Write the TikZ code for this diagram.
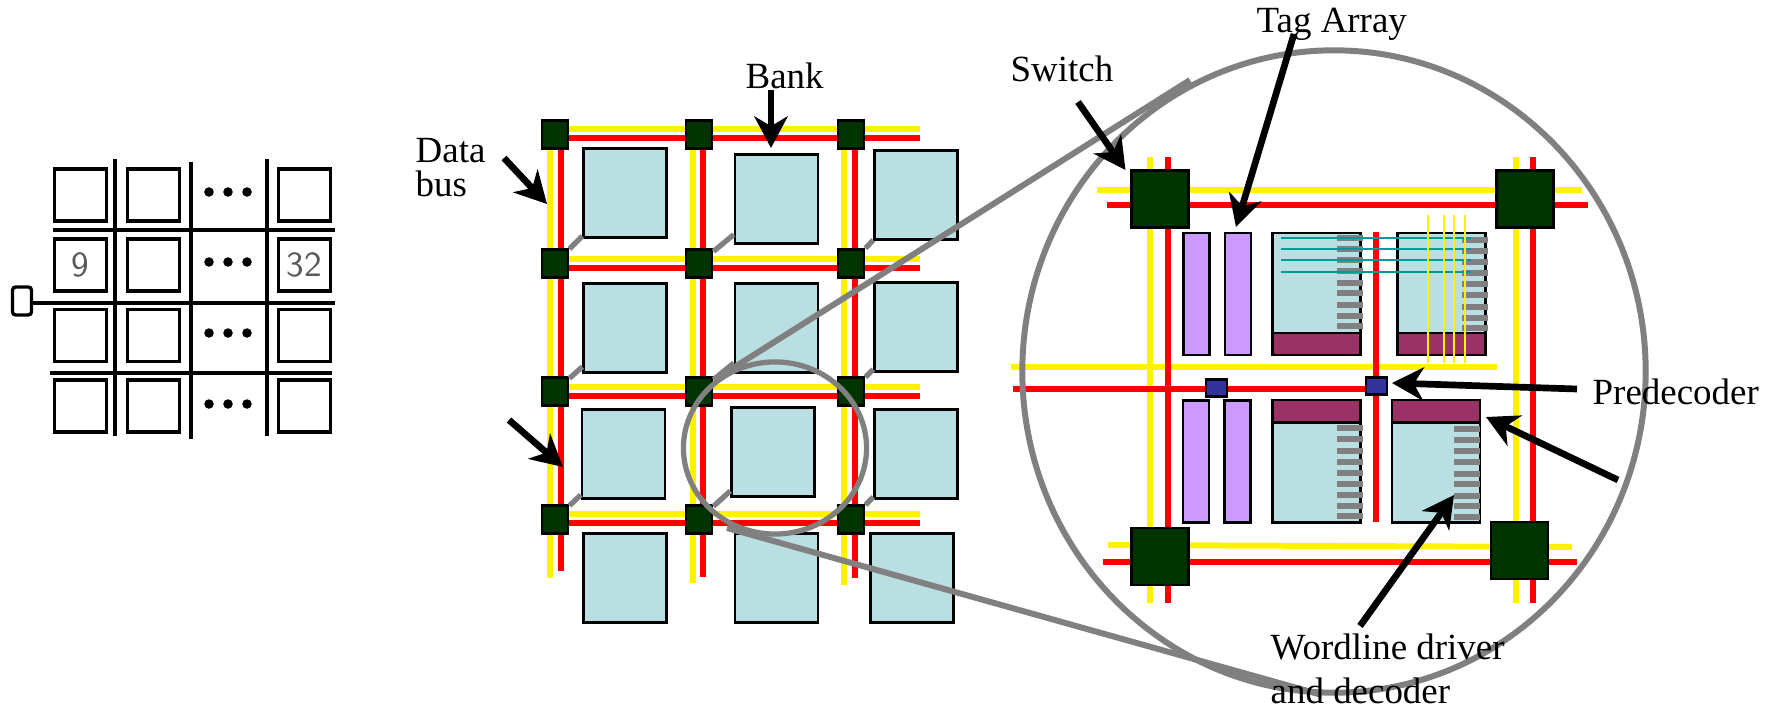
\documentclass[tikz,border=0pt]{standalone}
\usepackage{fontspec}
\setmainfont{Liberation Serif}
\usetikzlibrary{arrows.meta,shapes.geometric}
\definecolor{bankfill}{HTML}{B9DFE2}
\definecolor{switchfill}{HTML}{003300}
\definecolor{tagfill}{HTML}{CC99FF}
\definecolor{decfill}{HTML}{993366}
\definecolor{predfill}{HTML}{333399}
\definecolor{wordteal}{HTML}{009999}
\tikzset{
  cell/.style={draw,line width=0.95pt,inner sep=0pt,minimum width=0.52cm,minimum height=0.52cm},
  gridline/.style={line width=0.95pt},
  tapdot/.style={circle,fill=black,inner sep=0pt,minimum size=0.095cm},
  bank/.style={draw,fill=bankfill,line width=0.7pt,inner sep=0pt,minimum width=0.83cm,minimum height=0.885cm},
  switch/.style={draw,fill=switchfill,line width=0.7pt,inner sep=0pt,minimum width=0.265cm,minimum height=0.28cm},
  bigswitch/.style={draw,fill=switchfill,line width=0.7pt,inner sep=0pt,minimum width=0.57cm,minimum height=0.57cm},
  tagbox/.style={draw,fill=tagfill,line width=0.8pt,inner sep=0pt,minimum width=0.26cm,minimum height=1.22cm},
  databox/.style={draw,fill=bankfill,line width=0.8pt,inner sep=0pt,minimum width=0.88cm,minimum height=1.0cm},
  decbox/.style={draw,fill=decfill,line width=0.8pt,inner sep=0pt,minimum width=0.88cm,minimum height=0.22cm},
  predbox/.style={draw,fill=predfill,line width=0.8pt,inner sep=0pt,minimum width=0.21cm,minimum height=0.17cm},
  driver/.style={fill=gray,inner sep=0pt,minimum width=0.26cm,minimum height=0.06cm},
  ybus/.style={yellow,line width=1.7pt},
  rbus/.style={red,line width=1.7pt},
  stub/.style={gray,line width=1.5pt},
  thinteal/.style={wordteal,line width=0.7pt},
  thinyellow/.style={yellow,line width=0.7pt},
  lens/.style={ellipse,draw=gray,inner sep=0pt},
  zoomline/.style={gray,line width=1.7pt},
  pointer/.style={-{Stealth[length=9pt,width=9.5pt,inset=2.8pt]},line width=1.9pt},
  tag/.style={anchor=base west,inner sep=0pt,font=\fontsize{10.5}{12}\selectfont},
}
\begin{document}
\begin{tikzpicture}[x=0.01cm,y=-0.01cm]
  \useasboundingbox (0,0) rectangle (1778,709);
  \draw
    (80.5,195) node[cell] (c11){}
    (153.5,195) node[cell] (c12){}
    (304.5,195) node[cell] (c13){}
    (80.5,265) node[cell,text=black!65,font=\sffamily] (c21){9}
    (153.5,265) node[cell] (c22){}
    (304.5,265) node[cell,text=black!65,font=\sffamily] (c23){32}
    (80.5,335.5) node[cell] (c31){}
    (153.5,335.5) node[cell] (c32){}
    (304.5,335.5) node[cell] (c33){}
    (80.5,406) node[cell] (c41){}
    (153.5,406) node[cell] (c42){}
    (304.5,406) node[cell] (c43){}
    (22,301) node[draw,line width=0.95pt,rounded corners=0.9pt,inner sep=0pt,minimum width=0.19cm,minimum height=0.28cm] (port){};
  \draw
    (209,192) node[tapdot] (t11){}
    (228,192) node[tapdot] (t12){}
    (247,192) node[tapdot] (t13){}
    (209,262) node[tapdot] (t21){}
    (228,262) node[tapdot] (t22){}
    (247,262) node[tapdot] (t23){}
    (209,333) node[tapdot] (t31){}
    (228,333) node[tapdot] (t32){}
    (247,333) node[tapdot] (t33){}
    (209,404) node[tapdot] (t41){}
    (228,404) node[tapdot] (t42){}
    (247,404) node[tapdot] (t43){};
  \draw
    (115,159) coordinate (v1a) (115,436) coordinate (v1b)
    (191,162) coordinate (v2a) (191,439) coordinate (v2b)
    (267,159) coordinate (v3a) (267,436) coordinate (v3b)
    (53,230) coordinate (h1a) (335,230) coordinate (h1b)
    (335,303) coordinate (h2b)
    (50,373) coordinate (h3a) (332,373) coordinate (h3b);
  \begin{scope}[gridline]
    \draw (v1a) to (v1b);
    \draw (v2a) to (v2b);
    \draw (v3a) to (v3b);
    \draw (h1a) to (h1b);
    \draw (port.east |- h2b) to (h2b);
    \draw (h3a) to (h3b);
  \end{scope}
  \draw
    (555,129) coordinate (ya1) (920,129) coordinate (yb1)
    (555,138) coordinate (ra1) (920,138) coordinate (rb1)
    (555,259) coordinate (ya2) (920,259) coordinate (yb2)
    (555,268) coordinate (ra2) (920,268) coordinate (rb2)
    (555,387) coordinate (ya3) (920,387) coordinate (yb3)
    (555,396) coordinate (ra3) (920,396) coordinate (rb3)
    (555,514) coordinate (ya4) (920,514) coordinate (yb4)
    (555,523) coordinate (ra4) (920,523) coordinate (rb4)
    (550,134) coordinate (yc1) (550,578) coordinate (yd1)
    (561,134) coordinate (rc1) (561,571) coordinate (rd1)
    (693,134) coordinate (yc2) (693,583) coordinate (yd2)
    (703,134) coordinate (rc2) (703,577) coordinate (rd2)
    (844,134) coordinate (yc3) (844,585) coordinate (yd3)
    (855,134) coordinate (rc3) (855,578) coordinate (rd3);
  \begin{scope}[ybus]
    \draw (ya1) to (yb1);
    \draw (ya2) to (yb2);
    \draw (ya3) to (yb3);
    \draw (ya4) to (yb4);
    \draw (yc1) to (yd1);
    \draw (yc2) to (yd2);
    \draw (yc3) to (yd3);
  \end{scope}
  \begin{scope}[rbus]
    \draw (ra1) to (rb1);
    \draw (ra2) to (rb2);
    \draw (ra3) to (rb3);
    \draw (ra4) to (rb4);
    \draw (rc1) to (rd1);
    \draw (rc2) to (rd2);
    \draw (rc3) to (rd3);
  \end{scope}
  \draw
    (555,134.5) node[switch] (s11){}
    (699,134.5) node[switch] (s12){}
    (851,134.5) node[switch] (s13){}
    (555,263.5) node[switch] (s21){}
    (699,263.5) node[switch] (s22){}
    (851,263.5) node[switch] (s23){}
    (555,391.5) node[switch] (s31){}
    (699,391.5) node[switch] (s32){}
    (851,391.5) node[switch] (s33){}
    (555,519.5) node[switch] (s41){}
    (699,519.5) node[switch] (s42){}
    (851,519.5) node[switch] (s43){};
  \draw
    (625,193) node[bank] (b11){}
    (776.5,199) node[bank] (b12){}
    (916,195) node[bank] (b13){}
    (625,328) node[bank] (b21){}
    (776.5,328) node[bank] (b22){}
    (916,327) node[bank] (b23){}
    (623.5,454) node[bank] (b31){}
    (773,452) node[bank] (b32){}
    (916,454) node[bank] (b33){}
    (625,578) node[bank] (b41){}
    (776.5,578) node[bank] (b42){}
    (912,578) node[bank] (b43){};
  \begin{scope}[stub]
    \draw (s21) to (b11);
    \draw (s22) to (b12);
    \draw (s23) to (b13);
    \draw (s31) to (b21);
    \draw (s32) to (b22);
    \draw (s33) to (b23);
    \draw (s41) to (b31);
    \draw (s42) to (b32);
    \draw (s43) to (b33);
  \end{scope}
  \draw
    (1150,157) coordinate (dya1) (1150,603) coordinate (dyb1)
    (1168,157) coordinate (dra1) (1168,603) coordinate (drb1)
    (1515.5,157) coordinate (dya2) (1515.5,603) coordinate (dyb2)
    (1533,157) coordinate (dra2) (1533,603) coordinate (drb2)
    (1097,190) coordinate (dyc1) (1582,190) coordinate (dyd1)
    (1107,205) coordinate (drc1) (1588,205) coordinate (drd1)
    (1011,367) coordinate (dyc2) (1497,367) coordinate (dyd2)
    (1013,389) coordinate (drc2) (1365,389) coordinate (drd2)
    (1108,545) coordinate (dyc3) (1572,547) coordinate (dyd3)
    (1103,562) coordinate (drc3) (1577,562) coordinate (drd3)
    (1376,232) coordinate (drm1) (1376,522) coordinate (drm2);
  \begin{scope}[ybus]
    \draw (dya1) to (dyb1);
    \draw (dya2) to (dyb2);
    \draw (dyc1) to (dyd1);
    \draw (dyc2) to (dyd2);
    \draw (dyc3) to (dyd3);
  \end{scope}
  \begin{scope}[rbus]
    \draw (dra1) to (drb1);
    \draw (dra2) to (drb2);
    \draw (drc1) to (drd1);
    \draw (drc2) to (drd2);
    \draw (drc3) to (drd3);
    \draw (drm1) to (drm2);
  \end{scope}
  \draw
    (1160,199) node[bigswitch] (ds1){}
    (1525,199) node[bigswitch] (ds2){}
    (1160,556.5) node[bigswitch] (ds3){}
    (1519.5,550.5) node[bigswitch] (ds4){}
    (1216.5,388) node[predbox] (p1){}
    (1376.5,386) node[predbox] (p2){}
    (1196.5,294) node[tagbox] (ta1){}
    (1238,294) node[tagbox] (ta2){}
    (1196,461.5) node[tagbox] (ta3){}
    (1237.5,461.5) node[tagbox] (ta4){}
    (1316.5,283) node[databox] (da1){}
    (1441.5,283) node[databox] (da2){}
    (1316.5,472.5) node[databox] (da3){}
    (1436,472.5) node[databox] (da4){}
    (1316.5,344) node[decbox] (dc1){}
    (1441.5,344) node[decbox] (dc2){}
    (1316.5,411) node[decbox] (dc3){}
    (1436,411) node[decbox] (dc4){};
  \draw
    (1350,238) node[driver] (wa1){}
    (1350,249) node[driver] (wa2){}
    (1350,260) node[driver] (wa3){}
    (1350,271) node[driver] (wa4){}
    (1350,283) node[driver] (wa5){}
    (1350,293) node[driver] (wa6){}
    (1350,305) node[driver] (wa7){}
    (1350,316) node[driver] (wa8){}
    (1350,326) node[driver] (wa9){}
    (1475,240) node[driver] (wb1){}
    (1475,251) node[driver] (wb2){}
    (1475,262) node[driver] (wb3){}
    (1475,273) node[driver] (wb4){}
    (1475,284) node[driver] (wb5){}
    (1475,295) node[driver] (wb6){}
    (1475,307) node[driver] (wb7){}
    (1475,318) node[driver] (wb8){}
    (1475,328) node[driver] (wb9){}
    (1350,428) node[driver] (wc1){}
    (1350,439) node[driver] (wc2){}
    (1350,451) node[driver] (wc3){}
    (1350,462) node[driver] (wc4){}
    (1350,473) node[driver] (wc5){}
    (1350,484) node[driver] (wc6){}
    (1350,495) node[driver] (wc7){}
    (1350,506) node[driver] (wc8){}
    (1350,516) node[driver] (wc9){}
    (1467,429) node[driver] (wd1){}
    (1467,440) node[driver] (wd2){}
    (1467,451) node[driver] (wd3){}
    (1467,462) node[driver] (wd4){}
    (1467,474) node[driver] (wd5){}
    (1467,484) node[driver] (wd6){}
    (1467,496) node[driver] (wd7){}
    (1467,506) node[driver] (wd8){}
    (1467,517) node[driver] (wd9){};
  \draw
    (1281,238) coordinate (tl1) (1471,238) coordinate (tr1)
    (1281,249) coordinate (tl2) (1471,249) coordinate (tr2)
    (1281,260) coordinate (tl3) (1471,260) coordinate (tr3)
    (1281,272) coordinate (tl4) (1471,272) coordinate (tr4)
    (1428,215) coordinate (yt1) (1428,363) coordinate (ye1)
    (1444,215) coordinate (yt2) (1444,363) coordinate (ye2)
    (1454,215) coordinate (yt3) (1454,363) coordinate (ye3)
    (1465,215) coordinate (yt4) (1465,363) coordinate (ye4);
  \begin{scope}[thinteal]
    \draw (tl1) to (tr1);
    \draw (tl2) to (tr2);
    \draw (tl3) to (tr3);
    \draw (tl4) to (tr4);
  \end{scope}
  \begin{scope}[thinyellow]
    \draw (yt1) to (ye1);
    \draw (yt2) to (ye2);
    \draw (yt3) to (ye3);
    \draw (yt4) to (ye4);
  \end{scope}
  \draw
    (775,448) node[lens,line width=1.5pt,minimum width=1.83cm,minimum height=1.72cm] (near){}
    (1334,371.5) node[lens,line width=1.7pt,minimum width=6.23cm,minimum height=6.42cm] (far){};
  \draw
    (714,380) coordinate (za) (1190,80) coordinate (zb)
    (727,528) coordinate (zc) (1322,695) coordinate (zd);
  \begin{scope}[zoomline]
    \draw (za) to (zb);
    \draw (zc) to (zd);
  \end{scope}
  \draw
    (415,162) node[tag] (ldata){Data}
    (415,196) node[tag] (lbus){bus}
    (745,88) node[tag] (lbank){Bank}
    (1010,81) node[tag] (lswitch){Switch}
    (1256,32) node[tag] (ltag){Tag Array}
    (1592,404) node[tag] (lpred){Predecoder}
    (1270,659) node[tag] (lword){Wordline driver}
    (1270,703) node[tag] (ldec){and decoder};
  \draw
    (771,90) coordinate (a1) (771,148) coordinate (a2)
    (504,158) coordinate (a3) (547,204) coordinate (a4)
    (509,420) coordinate (a5) (563,467) coordinate (a6)
    (1078,102) coordinate (a7) (1125.5,170) coordinate (a8)
    (1294,34) coordinate (a9) (1236,227) coordinate (a10)
    (1577,389) coordinate (a11) (1392,383) coordinate (a12)
    (1618,480) coordinate (a13) (1486,417) coordinate (a14)
    (1360,626) coordinate (a15) (1454,495) coordinate (a16);
  \begin{scope}[pointer]
    \draw (a1) to (a2);
    \draw (a3) to (a4);
    \draw (a5) to (a6);
    \draw (a7) to (a8);
    \draw (a9) to (a10);
    \draw (a11) to (a12);
    \draw (a13) to (a14);
    \draw (a15) to (a16);
  \end{scope}
\end{tikzpicture}
\end{document}
